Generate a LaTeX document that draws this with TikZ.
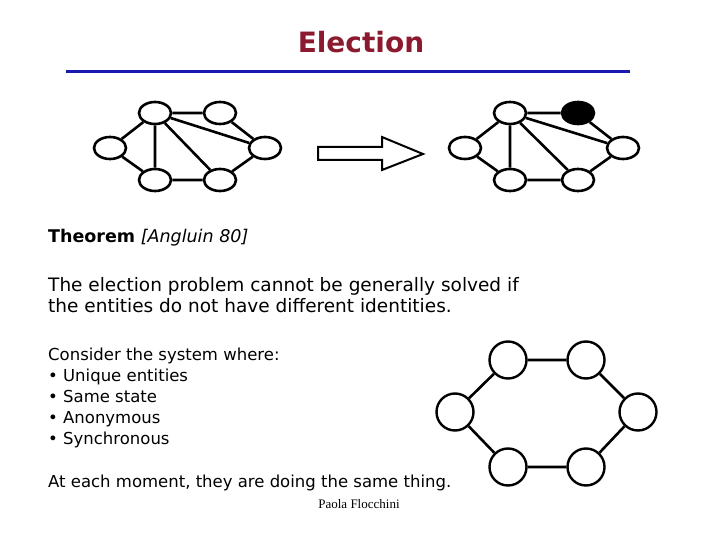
\documentclass[tikz,border=0pt]{standalone}
\usepackage{fontspec}
\setmainfont{DejaVu Sans}
\newfontfamily\footfont{Liberation Serif}
\usetikzlibrary{positioning,shapes.geometric}
\definecolor{titlered}{HTML}{8B1A2E}
\definecolor{ruleblue}{HTML}{1A1AB0}
\tikzset{
  ent/.style={draw,ellipse,line width=2.6pt,fill=white,minimum width=32pt,minimum height=22pt,inner sep=0pt},
  leader/.style={ent,fill=black},
  ring/.style={draw,circle,line width=2.4pt,fill=white,minimum size=37pt,inner sep=0pt},
  link/.style={line width=2.6pt},
  txt/.style={anchor=base west,inner sep=0pt,align=left}}

\begin{document}
\begin{tikzpicture}[x=1pt,y=-1pt]
  \useasboundingbox (0,0) rectangle (720,540);
  % title and rule
  \node[anchor=base,text=titlered,font=\fontsize{28}{34}\selectfont\bfseries] (title) at (361,53) {Election};
  \draw[ruleblue,line width=3pt] (66,72) -- (630,72);
  % graph before
  \node[ent] (a1) at (155,113) {};
  \node[ent] (a2) at (220,113) {};
  \node[ent] (a3) at (110,148) {};
  \node[ent] (a4) at (265,148) {};
  \node[ent] (a5) at (155,180) {};
  \node[ent] (a6) at (220,180) {};
  \draw[link] (a1)--(a2) (a1)--(a3) (a1)--(a5) (a1)--(a6) (a1)--(a4)
              (a2)--(a4) (a3)--(a5) (a5)--(a6) (a6)--(a4);
  % graph after
  \node[ent] (b1) at (510,113) {};
  \node[leader] (b2) at (578,113) {};
  \node[ent] (b3) at (465,148) {};
  \node[ent] (b4) at (623,148) {};
  \node[ent] (b5) at (510,180) {};
  \node[ent] (b6) at (578,180) {};
  \draw[link] (b1)--(b2) (b1)--(b3) (b1)--(b5) (b1)--(b6) (b1)--(b4)
              (b2)--(b4) (b3)--(b5) (b5)--(b6) (b6)--(b4);
  % big arrow
  \draw[line width=2pt,fill=white] (318,147) -- (382,147) -- (382,137) -- (423,154)
    -- (382,170) -- (382,160) -- (318,160) -- cycle;
  % text
  \node[txt,font=\fontsize{17.5}{21}\selectfont] (thm) at (48,242) {\textbf{Theorem} \textit{[Angluin 80]}};
  \node[txt,font=\fontsize{18.5}{21}\selectfont] (stmt) at (48,312)
    {The election problem cannot be generally solved if\\the entities do not have different identities.};
  \node[txt,font=\fontsize{16.5}{21}\selectfont] (sys) at (48,444)
    {Consider the system where:\\• Unique entities\\• Same state\\• Anonymous\\• Synchronous};
  \node[txt,font=\fontsize{16.5}{21}\selectfont] (moment) at (48,487) {At each moment, they are doing the same thing.};
  \node[anchor=base,inner sep=0pt,font=\footfont\fontsize{13}{15}\selectfont] (author) at (359,508) {Paola Flocchini};
  % ring of anonymous entities
  \node[ring] (c1) at (508,360) {};
  \node[ring] (c2) at (586,360) {};
  \node[ring] (c3) at (638,412) {};
  \node[ring] (c4) at (586,467) {};
  \node[ring] (c5) at (508,467) {};
  \node[ring] (c6) at (455,412) {};
  \draw[link] (c1)--(c2) (c2)--(c3) (c3)--(c4) (c4)--(c5) (c5)--(c6) (c6)--(c1);
\end{tikzpicture}
\end{document}
